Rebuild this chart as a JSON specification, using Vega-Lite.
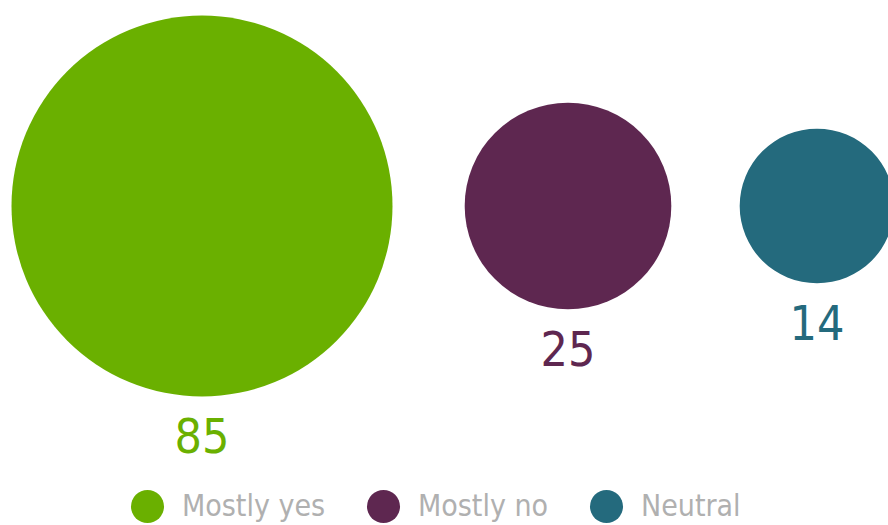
{
  "$schema": "https://vega.github.io/schema/vega-lite/v6.json",
  "width": 888,
  "height": 412,
  "padding": {"left": 0, "top": 0, "right": 0, "bottom": 113},
  "autosize": {"type": "none"},
  "background": "white",
  "config": {"view": {"stroke": null}},
  "data": {"values": [
    {"category": "Mostly yes", "value": 85},
    {"category": "Mostly no", "value": 25},
    {"category": "Neutral", "value": 14}
  ]},
  "encoding": {
    "x": {"field": "value", "type": "quantitative", "axis": null,
          "scale": {"domain": [14, 25, 85], "range": [817, 568, 202], "zero": false, "nice": false}},
    "color": {"field": "category", "type": "nominal",
              "scale": {"domain": ["Mostly yes", "Mostly no", "Neutral"], "range": ["#6ab000", "#5e2750", "#246a7d"]},
              "legend": {"title": null, "orient": "none", "direction": "horizontal", "legendX": 131, "legendY": 490,
                         "symbolType": "circle", "symbolSize": 1089, "symbolStrokeWidth": 0, "symbolOpacity": 1,
                         "labelFontSize": 30, "labelFont": "Liberation Sans Narrow, DejaVu Sans Condensed, sans-serif",
                         "labelColor": "#b0b0b0", "labelOffset": 18, "columnPadding": 41, "labelLimit": 300}}
  },
  "layer": [
    {
      "mark": {"type": "point", "filled": true, "opacity": 1, "shape": "circle"},
      "encoding": {
        "size": {"field": "value", "type": "quantitative", "legend": null,
                 "scale": {"type": "linear", "domain": [0, 85], "range": [0, 145161], "zero": true}}
      }
    },
    {
      "mark": {"type": "text", "fontSize": 48, "font": "Liberation Sans Narrow, DejaVu Sans Condensed, sans-serif", "align": "center", "baseline": "alphabetic"},
      "encoding": {
        "y": {"field": "value", "type": "quantitative", "axis": null,
              "scale": {"type": "sqrt", "domain": [0, 85], "range": [263, 453], "zero": true, "nice": false}},
        "text": {"field": "value", "type": "quantitative"}
      }
    }
  ]
}
